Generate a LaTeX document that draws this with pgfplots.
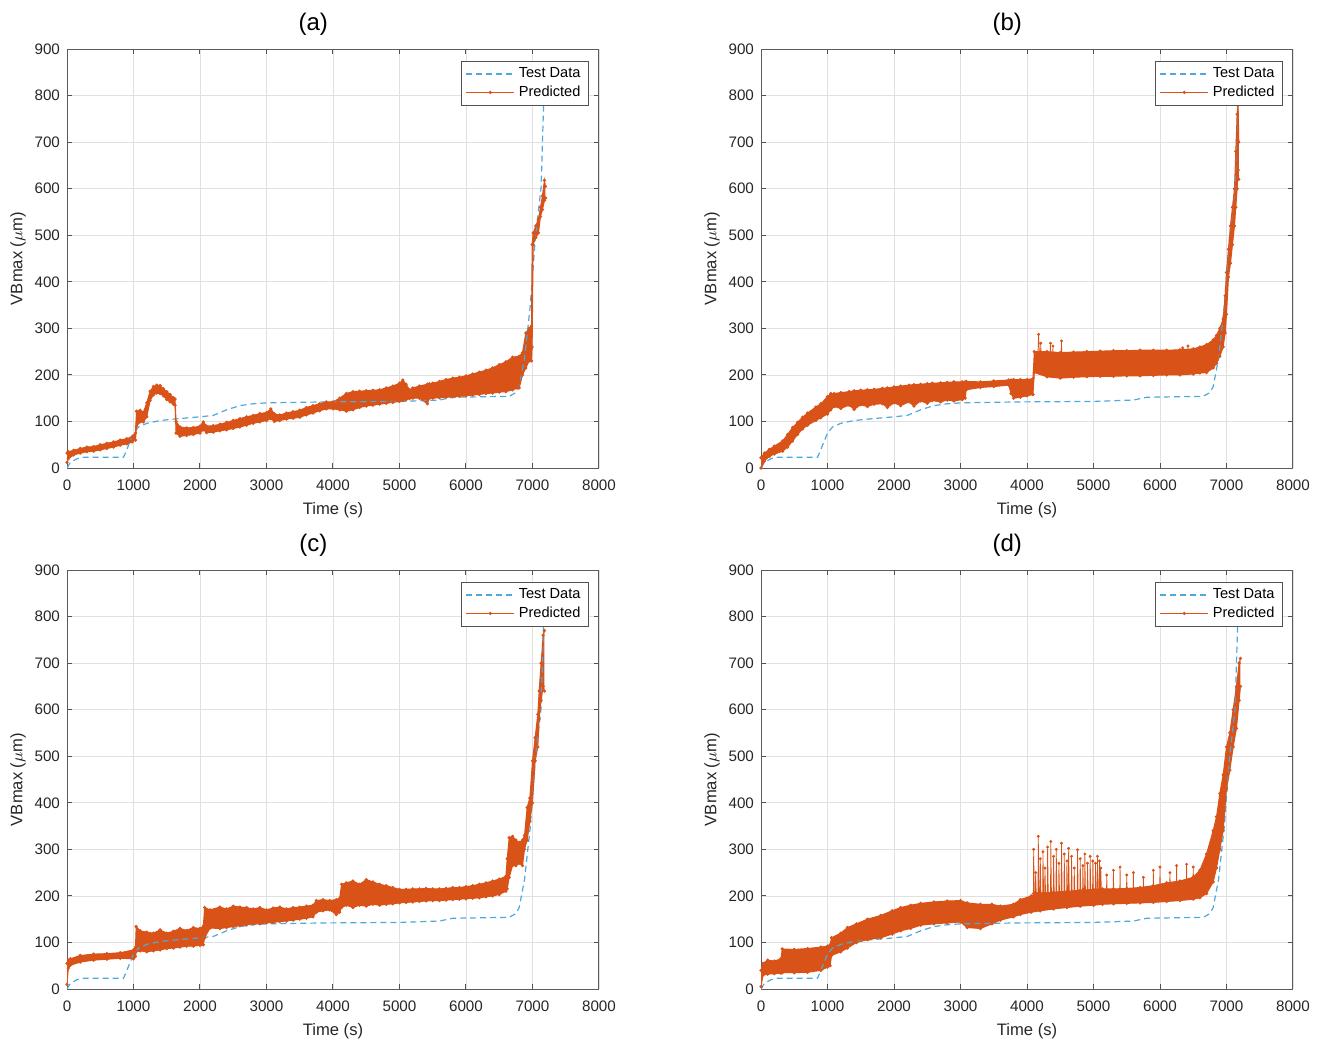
\documentclass[border=0pt]{standalone}
\usepackage{fontspec}
\setmainfont{Liberation Sans}
\usepackage{pgfplots}
\pgfplotsset{compat=1.18}
\usepackage{pgfplotstable}
\usepgfplotslibrary{fillbetween}
\definecolor{testc}{RGB}{77,168,222}
\definecolor{predc}{RGB}{217,83,25}
\definecolor{axc}{RGB}{38,38,38}

\pgfplotstableread{
t v
0 0
50 12
150 20
250 23
850 23
900 40
1000 75
1075 88
1200 96
1400 102
1600 105
2000 110
2200 113
2400 125
2600 134
2800 138
3000 140
3900 142
5000 143
5600 146
5800 152
6650 154
6750 162
6800 175
6880 235
6965 346
7040 489
7130 604
7166 775
7178 830
}\testdata

\pgfplotstableread{
t lo hi
0 12 32
20 20 35
100 28 38
200 32 42
300 35 45
400 36 46
500 39 50
600 42 53
700 45 56
800 49 60
900 52 63
980 56 67
1030 60 75
1045 90 122
1100 99 124
1150 99 120
1200 110 140
1250 145 165
1300 157 175
1350 161 178
1400 160 177
1450 155 170
1500 147 164
1550 142 158
1600 137 151
1625 135 148
1640 75 100
1700 68 88
1800 70 86
1900 72 87
2000 75 90
2050 82 99
2100 76 90
2200 77 91
2300 80 94
2400 82 98
2500 85 102
2600 88 106
2700 92 110
2800 96 113
2900 99 117
3000 102 119
3065 106 127
3120 100 116
3200 102 114
3300 105 118
3400 107 121
3500 109 124
3600 114 130
3700 118 134
3800 123 138
3900 127 142
4000 127 142
4100 125 150
4200 122 160
4300 125 164
4400 130 165
4500 133 166
4600 135 167
4700 137 168
4800 139 172
4900 141 176
5000 143 182
5050 145 189
5100 147 180
5150 149 168
5200 150 172
5300 150 176
5420 138 180
5450 150 181
5500 150 182
5600 151 186
5700 152 190
5800 153 193
5900 154 195
6000 155 198
6100 157 202
6200 158 206
6300 160 210
6400 161 215
6500 163 222
6600 164 228
6700 168 238
6800 172 240
6850 200 248
6900 215 290
6950 230 300
6985 230 305
6995 260 480
7010 480 505
7050 495 520
7090 505 535
7120 540 560
7150 555 585
7180 575 618
7195 580 605
}\pa

\pgfplotstableread{
t lo hi
0 0 22
50 15 32
125 25 40
200 30 47
325 36 58
400 45 72
475 58 87
550 72 98
625 84 109
700 92 118
825 102 131
900 108 138
1000 116 153
1050 125 160
1100 132 160
1200 128 162
1325 135 164
1400 126 166
1500 136 167
1600 132 168
1700 137 169
1825 138 171
1900 130 172
2000 140 174
2100 134 176
2225 142 178
2300 133 179
2400 144 180
2500 139 181
2575 145 182
2700 142 183
2800 146 184
2900 144 185
3025 147 185
3070 150 185
3085 168 186
3300 173 185
3500 175 187
3725 178 189
3760 160 189
3800 150 190
3900 152 190
4000 155 190
4090 158 192
4110 205 250
4300 196 250
4500 193 248
4700 195 249
4900 196 250
5100 197 251
5300 197 252
5500 198 252
5700 198 253
5900 199 253
6100 200 253
6300 200 254
6500 202 256
6600 204 260
6700 205 265
6800 215 275
6850 225 285
6900 240 300
6950 260 320
6980 290 370
7000 330 420
7030 410 470
7060 440 520
7090 480 560
7120 520 600
7140 560 680
7160 600 760
7175 640 780
7185 620 700
}\pb

\pgfplotstableread{
t v
4160 230
4175 287
4190 230
4200 230
4207 268
4215 230
4345 230
4352 268
4360 230
4383 230
4390 262
4398 230
4512 230
4519 273
4526 230
6333 235
6340 258
6347 235
6414 235
6421 262
6428 235
}\sb

\pgfplotstableread{
t lo hi
0 10 55
20 45 62
50 51 65
200 58 72
400 62 75
600 64 76
800 66 78
1000 65 84
1030 70 90
1040 80 134
1100 82 125
1200 80 122
1300 82 120
1400 84 127
1500 87 120
1600 88 124
1700 90 130
1800 92 126
1900 92 132
2000 94 130
2050 95 135
2070 110 175
2150 131 170
2300 130 176
2400 132 172
2500 134 178
2600 136 176
2700 138 175
2800 140 172
2900 140 175
3000 142 170
3100 143 174
3200 145 176
3300 146 172
3400 148 175
3500 150 176
3600 152 178
3700 155 180
3750 165 190
3850 168 192
3950 170 190
4050 160 192
4100 165 195
4130 175 225
4200 180 228
4300 175 232
4400 180 225
4500 178 235
4600 182 230
4700 180 225
4800 182 222
4900 183 218
5000 185 214
5100 186 214
5200 187 215
5300 188 215
5400 189 216
5500 190 215
5600 190 215
5700 191 216
5800 192 218
5900 193 218
6000 194 220
6100 195 222
6200 196 225
6300 198 228
6400 200 232
6500 203 236
6600 210 242
6620 215 280
6650 240 325
6700 265 328
6750 265 320
6800 270 315
6850 265 320
6880 300 330
6920 320 390
6960 360 410
7000 400 490
7040 490 540
7080 520 590
7100 580 640
7130 620 700
7160 650 760
7180 640 770
}\pc

\pgfplotstableread{
t lo hi
0 5 40
30 30 55
100 32 62
200 33 60
300 34 65
320 35 86
500 35 85
700 36 87
900 40 90
1000 47 92
1040 50 95
1060 72 110
1200 80 120
1300 88 132
1436 100 140
1600 106 150
1800 110 158
1972 118 168
2100 125 175
2250 130 180
2401 137 184
2600 140 187
2800 142 189
3000 144 190
3100 132 185
3300 130 182
3473 140 182
3600 148 178
3795 155 182
3900 160 192
4063 165 200
4200 168 205
4400 172 208
4600 175 210
4800 178 212
5000 180 214
5135 182 215
5300 183 215
5500 184 216
5700 185 218
5900 186 222
6100 188 228
6300 190 232
6500 193 240
6600 196 255
6700 205 290
6800 230 340
6850 260 370
6900 300 420
6950 340 460
7000 430 520
7050 470 550
7100 520 600
7150 560 650
7190 620 700
7210 650 710
}\pd

\pgfplotstableread{
t v
4095 205
4100 300
4110 205
4125 205
4130 250
4140 205
4165 205
4170 328
4180 205
4195 205
4200 280
4210 205
4235 205
4240 295
4250 205
4265 205
4270 260
4280 205
4305 205
4310 305
4320 205
4353 205
4358 317
4368 205
4395 205
4400 285
4410 205
4435 205
4440 300
4450 205
4475 205
4480 270
4490 205
4514 205
4519 313
4529 205
4555 205
4560 290
4570 205
4595 205
4600 275
4610 205
4621 205
4626 302
4636 205
4665 205
4670 285
4680 205
4705 205
4710 260
4720 205
4755 205
4760 299
4770 205
4795 205
4800 280
4810 205
4835 205
4840 265
4850 205
4865 205
4870 290
4880 205
4905 205
4910 270
4920 205
4945 205
4950 285
4960 205
4985 205
4990 275
5000 205
5025 205
5030 270
5040 205
5055 205
5060 285
5070 205
5085 205
5090 275
5100 205
5105 205
5110 260
5120 205
5195 210
5200 245
5205 210
5295 210
5300 255
5305 210
5395 210
5400 262
5405 210
5495 210
5500 245
5505 210
5595 210
5600 250
5605 210
5745 210
5750 240
5755 210
5895 212
5900 255
5905 212
5995 215
6000 262
6005 215
6145 220
6150 250
6155 220
6245 222
6250 265
6255 222
6395 225
6400 268
6405 225
6495 228
6500 262
6505 228
}\sd

\pgfplotsset{
 mystyle/.style={
  scale only axis, width=266pt, height=209.5pt,
  xmin=0, xmax=8000, ymin=0, ymax=900,
  xtick={0,1000,...,8000}, ytick={0,100,...,900},
  grid=major, major grid style={color=black!12, line width=0.4pt},
  axis line style={color=axc!75, line width=0.5pt},
  tick style={color=axc!80, line width=0.5pt},
  tick align=inside, major tick length=2.5pt,
  xtick pos=both, ytick pos=both,
  ticklabel style={font=\fontsize{7.6}{9}\selectfont, text=axc},
  xticklabel style={yshift=-2.5pt},
  /pgf/number format/assume math mode=true,
  /pgf/number format/1000 sep={},
  scaled ticks=false,
  xlabel={Time (s)}, ylabel={VBmax ($\mu$m)},
  label style={font=\fontsize{8.3}{10}\selectfont, text=axc, inner sep=1pt},
  xlabel style={at={(axis description cs:0.5,-0.1)}, anchor=center},
  ylabel style={at={(axis description cs:-0.092,0.5)}, anchor=center},
  every axis title shift=0pt,
  title style={font=\fontsize{12}{14}\selectfont, text=black, inner sep=1pt, at={(axis description cs:0.463,1.06)}, anchor=center},
  legend cell align=left,
  legend style={at={(0.981,0.971)}, anchor=north east, draw=axc!80, fill=white,
    font=\fontsize{7.3}{8.5}\selectfont, inner xsep=2pt, inner ysep=1pt, row sep=-1.5pt},
  legend image code/.code={\draw[mark repeat=2,mark phase=2,#1] plot coordinates {(0cm,0cm) (0.42cm,0cm) (0.84cm,0cm)};},
 },
 teststy/.style={color=testc, line width=0.6pt, dash pattern=on 3pt off 2pt},
 predsty/.style={color=predc, line width=0.5pt, mark=*, mark size=0.55pt},
 spksty/.style={color=predc, line width=0.35pt, mark=*, mark size=0.55pt, forget plot},
}

\begin{document}
\begin{tikzpicture}
\path (0,0) rectangle (664pt,-523pt);

\begin{axis}[mystyle, at={(33.5pt,-234pt)}, anchor=south west, title={(a)}]
\addplot[teststy] table[x=t,y=v] {\testdata}; \addlegendentry{Test Data}
\addlegendimage{predsty} \addlegendentry{Predicted}
\addplot[predsty, name path=alo, forget plot] table[x=t,y=lo] {\pa};
\addplot[predsty, name path=ahi, forget plot] table[x=t,y=hi] {\pa};
\addplot[fill=predc, draw=none, forget plot] fill between[of=alo and ahi];
\end{axis}

\begin{axis}[mystyle, at={(380.5pt,-234pt)}, anchor=south west, title={(b)}]
\addplot[teststy] table[x=t,y=v] {\testdata}; \addlegendentry{Test Data}
\addlegendimage{predsty} \addlegendentry{Predicted}
\addplot[predsty, name path=blo, forget plot] table[x=t,y=lo] {\pb};
\addplot[predsty, name path=bhi, forget plot] table[x=t,y=hi] {\pb};
\addplot[fill=predc, draw=none, forget plot] fill between[of=blo and bhi];
\addplot[spksty] table[x=t,y=v] {\sb};
\end{axis}

\begin{axis}[mystyle, at={(33.5pt,-494.5pt)}, anchor=south west, title={(c)}]
\addplot[teststy] table[x=t,y=v] {\testdata}; \addlegendentry{Test Data}
\addlegendimage{predsty} \addlegendentry{Predicted}
\addplot[predsty, name path=clo, forget plot] table[x=t,y=lo] {\pc};
\addplot[predsty, name path=chi, forget plot] table[x=t,y=hi] {\pc};
\addplot[fill=predc, draw=none, forget plot] fill between[of=clo and chi];
\end{axis}

\begin{axis}[mystyle, at={(380.5pt,-494.5pt)}, anchor=south west, title={(d)}]
\addplot[teststy] table[x=t,y=v] {\testdata}; \addlegendentry{Test Data}
\addlegendimage{predsty} \addlegendentry{Predicted}
\addplot[predsty, name path=dlo, forget plot] table[x=t,y=lo] {\pd};
\addplot[predsty, name path=dhi, forget plot] table[x=t,y=hi] {\pd};
\addplot[fill=predc, draw=none, forget plot] fill between[of=dlo and dhi];
\addplot[spksty] table[x=t,y=v] {\sd};
\end{axis}
\end{tikzpicture}
\end{document}
